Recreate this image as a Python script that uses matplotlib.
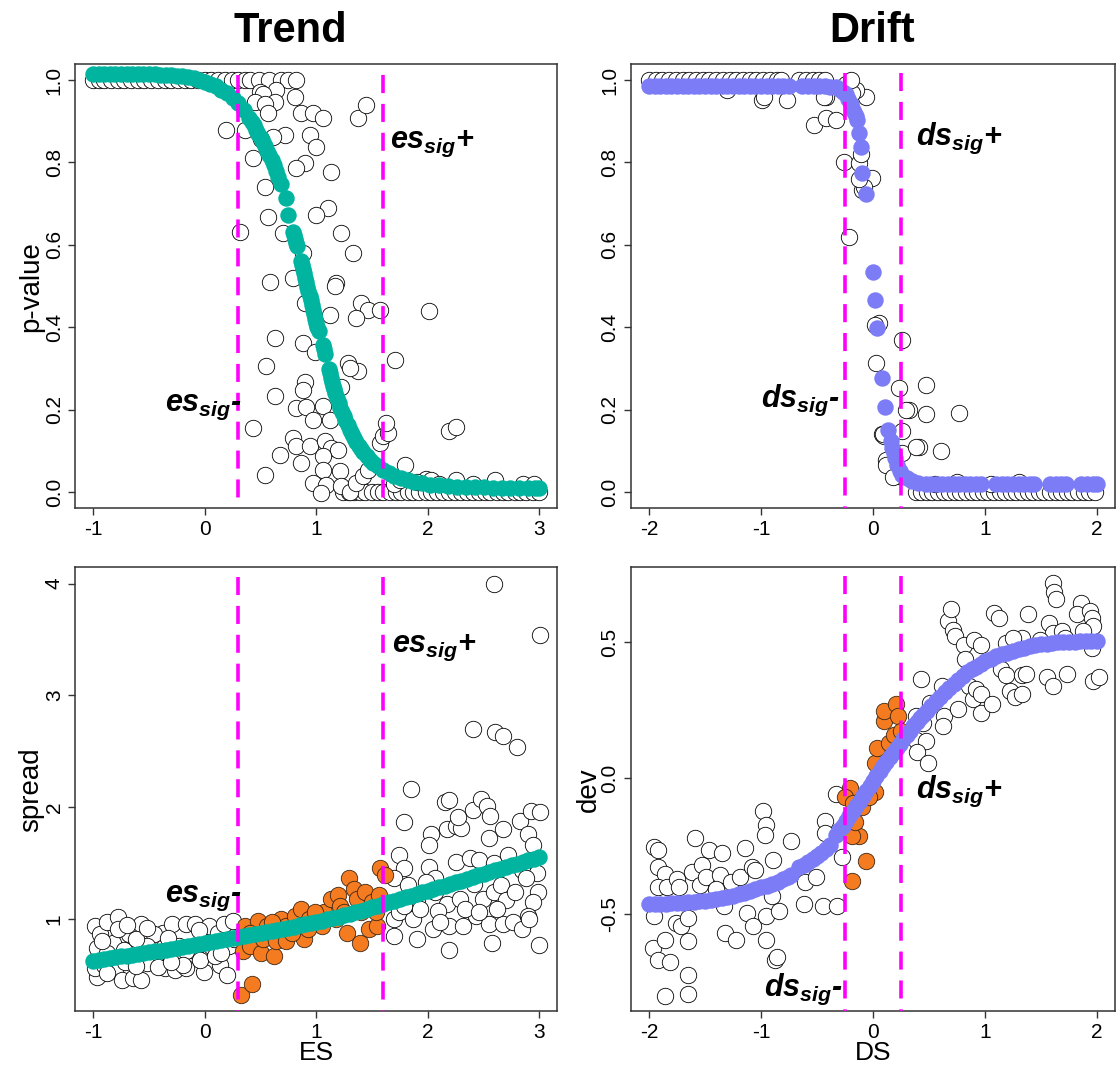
import matplotlib
matplotlib.use("Agg")
import matplotlib.pyplot as plt
import numpy as np

plt.rcParams['font.family'] = ['Liberation Sans', 'DejaVu Sans']
plt.rcParams['axes.unicode_minus'] = False
plt.rcParams['mathtext.fontset'] = 'custom'
plt.rcParams['mathtext.it'] = 'Liberation Sans:italic:bold'
plt.rcParams['mathtext.rm'] = 'Liberation Sans:bold'
plt.rcParams['mathtext.bf'] = 'Liberation Sans:bold'

TEAL = '#00B4A0'
PURPLE = '#7B7CF6'
ORANGE = '#F47B20'
MAGENTA = '#FF00FF'

# ---------------- Trend: ES vs p-value ----------------
tl_fit_x = [-1.00, -0.95, -0.90, -0.85, -0.80, -0.75, -0.70, -0.65, -0.60, -0.55, -0.50, -0.45,
            -0.40, -0.35, -0.30, -0.25, -0.20, -0.15, -0.10, -0.05, 0.00, 0.05, 0.10, 0.15,
            0.20, 0.25, 0.30, 0.35, 0.40, 0.42, 0.44, 0.46, 0.48, 0.50, 0.52, 0.54, 0.56, 0.58,
            0.60, 0.62, 0.64, 0.66, 0.68, 0.73, 0.75, 0.79, 0.80, 0.81, 0.82, 0.83, 0.86, 0.87,
            0.88, 0.89, 0.90, 0.91, 0.92, 0.93, 0.94, 0.95, 0.96, 0.97, 0.98, 0.99, 1.00, 1.01,
            1.02, 1.06, 1.07, 1.08, 1.11, 1.12, 1.13, 1.14, 1.15, 1.16, 1.17, 1.185, 1.20, 1.215,
            1.23, 1.245, 1.26, 1.28, 1.30, 1.32, 1.34, 1.36, 1.38, 1.40, 1.42, 1.45, 1.48, 1.51,
            1.55, 1.60, 1.65, 1.70, 1.76, 1.82, 1.88, 1.95, 2.02, 2.10, 2.18, 2.26, 2.34, 2.42,
            2.50, 2.58, 2.66, 2.74, 2.82, 2.90, 2.96, 3.00]
tl_fit_y = [1.015, 1.015, 1.015, 1.015, 1.015, 1.015, 1.015, 1.015, 1.015, 1.014, 1.014, 1.014,
            1.013, 1.013, 1.012, 1.011, 1.009, 1.007, 1.004, 1.000, 0.996, 0.991, 0.985, 0.977,
            0.968, 0.957, 0.944, 0.928, 0.908, 0.899, 0.890, 0.880, 0.870, 0.860, 0.850, 0.839,
            0.828, 0.817, 0.806, 0.793, 0.780, 0.765, 0.748, 0.713, 0.672, 0.632, 0.623, 0.614,
            0.605, 0.597, 0.562, 0.552, 0.542, 0.531, 0.520, 0.509, 0.498, 0.487, 0.476, 0.465,
            0.454, 0.443, 0.432, 0.421, 0.410, 0.400, 0.390, 0.357, 0.346, 0.335, 0.298, 0.288,
            0.278, 0.268, 0.258, 0.249, 0.240, 0.228, 0.216, 0.205, 0.194, 0.184, 0.174, 0.162,
            0.150, 0.140, 0.130, 0.121, 0.112, 0.104, 0.097, 0.087, 0.078, 0.071, 0.062, 0.053,
            0.045, 0.039, 0.033, 0.028, 0.024, 0.021, 0.018, 0.016, 0.014, 0.013, 0.012, 0.011,
            0.011, 0.010, 0.010, 0.010, 0.010, 0.010, 0.010, 0.010]

# circles sitting on p = 1 and p = 0
tl_one_x = [-1.0, -0.95, -0.9, -0.84, -0.78, -0.72, -0.66, -0.6, -0.54, -0.48, -0.42, -0.36,
            -0.3, -0.24, -0.18, -0.12, -0.06, 0.0, 0.06, 0.12, 0.18, 0.24, 0.3, 0.36, 0.404,
            0.49, 0.58, 0.687, 0.75, 0.82]
tl_zero_x = [1.24, 1.29, 1.34, 1.39, 1.44, 1.5, 1.55, 1.6, 1.66, 1.71, 1.76, 1.82, 1.87, 1.92,
             1.98, 2.03, 2.08, 2.14, 2.19, 2.24, 2.3, 2.35, 2.4, 2.46, 2.51, 2.56, 2.62, 2.67,
             2.72, 2.78, 2.83, 2.88, 2.94, 3.0]
tl_open = [(0.194, 0.879), (0.358, 0.879), (0.432, 0.810), (0.537, 0.741), (0.567, 0.668),
           (0.582, 0.511), (0.627, 0.373), (0.552, 0.305), (0.627, 0.232), (0.432, 0.155),
           (0.537, 0.042), (0.671, 0.090), (0.313, 0.632), (0.492, 0.972), (0.642, 0.976),
           (0.520, 0.965), (0.448, 0.947), (0.627, 0.947), (0.537, 0.943), (0.806, 0.959),
           (0.567, 0.919), (0.716, 0.867), (0.612, 0.862), (0.507, 0.858), (0.866, 0.919),
           (0.970, 0.919), (1.059, 0.907), (0.940, 0.867), (1.000, 0.838), (0.895, 0.798),
           (0.821, 0.786), (1.134, 0.778), (1.373, 0.907), (1.448, 0.939), (1.104, 0.689),
           (1.000, 0.672), (1.224, 0.628), (1.328, 0.580), (0.701, 0.628), (0.880, 0.580),
           (1.179, 0.507), (1.164, 0.499), (0.790, 0.519), (0.895, 0.458), (1.119, 0.430),
           (1.403, 0.458), (1.463, 0.443), (1.358, 0.422), (1.567, 0.442), (0.880, 0.361),
           (0.985, 0.341), (1.283, 0.313), (1.373, 0.293), (1.298, 0.300), (1.701, 0.321),
           (0.895, 0.268), (0.880, 0.248), (1.224, 0.256), (0.821, 0.204), (0.910, 0.207),
           (0.970, 0.175), (1.059, 0.208), (1.119, 0.175), (0.790, 0.131), (0.820, 0.111),
           (0.940, 0.111), (1.074, 0.123), (1.134, 0.107), (1.194, 0.103), (1.059, 0.087),
           (0.866, 0.070), (1.059, 0.054), (1.209, 0.050), (0.970, 0.022), (1.089, 0.018),
           (1.045, -0.002), (1.224, 0.014), (1.298, 0.001), (1.358, 0.022), (1.418, 0.038),
           (1.463, 0.054), (1.567, 0.119), (1.597, 0.135), (1.642, 0.143), (1.627, 0.167),
           (1.791, 0.066), (2.013, 0.440), (2.189, 0.149), (2.253, 0.159), (1.981, 0.032),
           (2.029, 0.030), (1.70, 0.020), (1.75, 0.030), (1.90, 0.025), (2.10, 0.020),
           (2.25, 0.030), (2.40, 0.020), (2.60, 0.030), (2.85, 0.020), (2.95, 0.020)]

# ---------------- Drift: DS vs p-value ----------------
tr_fit_x = [-2.00, -1.95, -1.90, -1.85, -1.80, -1.75, -1.70, -1.65, -1.60, -1.55, -1.50, -1.45,
            -1.40, -1.35, -1.30, -1.25, -1.20, -1.15, -1.10, -1.05, -1.00, -0.95, -0.90, -0.85,
            -0.80, -0.75, -0.63, -0.58, -0.53, -0.48, -0.43, -0.38, -0.334, -0.30, -0.27, -0.245,
            -0.22, -0.20, -0.185, -0.17, -0.155, -0.14, -0.125, -0.11, -0.095, -0.06, 0.0, 0.018,
            0.038, 0.077, 0.107, 0.137, 0.157, 0.17, 0.188, 0.20, 0.217, 0.24, 0.262, 0.30, 0.35,
            0.40, 0.47, 0.52, 0.57, 0.62, 0.67, 0.72, 0.77, 0.82, 0.87, 0.92, 0.96, 1.10, 1.15,
            1.20, 1.25, 1.30, 1.35, 1.40, 1.44, 1.58, 1.63, 1.68, 1.72, 1.86, 1.91, 1.96, 2.00]
tr_fit_y = [0.985, 0.985, 0.985, 0.985, 0.985, 0.985, 0.985, 0.985, 0.985, 0.985, 0.985, 0.985,
            0.985, 0.985, 0.985, 0.985, 0.985, 0.985, 0.985, 0.985, 0.985, 0.985, 0.985, 0.985,
            0.985, 0.985, 0.985, 0.985, 0.985, 0.985, 0.985, 0.984, 0.982, 0.978, 0.972, 0.966,
            0.955, 0.943, 0.933, 0.923, 0.913, 0.903, 0.871, 0.837, 0.774, 0.723, 0.533, 0.465,
            0.398, 0.276, 0.206, 0.151, 0.123, 0.108, 0.095, 0.082, 0.066, 0.052, 0.042, 0.033,
            0.026, 0.022, 0.020, 0.020, 0.020, 0.020, 0.020, 0.020, 0.020, 0.020, 0.020, 0.020,
            0.020, 0.020, 0.020, 0.020, 0.020, 0.020, 0.020, 0.020, 0.020, 0.020, 0.020, 0.020,
            0.020, 0.020, 0.020, 0.020, 0.020]
tr_one_x = [-2.0, -1.94, -1.88, -1.82, -1.76, -1.7, -1.64, -1.58, -1.52, -1.46, -1.4, -1.34,
            -1.28, -1.22, -1.16, -1.1, -1.04, -0.98, -0.92, -0.86, -0.82, -0.66, -0.6, -0.54,
            -0.48, -0.43]
tr_zero_x = [0.38, 0.43, 0.48, 0.53, 0.58, 0.63, 0.68, 0.73, 0.78, 0.83, 0.88, 0.93, 0.98, 1.03,
             1.08, 1.13, 1.18, 1.23, 1.28, 1.33, 1.38, 1.43, 1.48, 1.53, 1.58, 1.63, 1.68, 1.73,
             1.78, 1.83, 1.88, 1.93, 1.98]
tr_open = [(-0.527, 0.891), (-0.420, 0.907), (-0.330, 0.903), (-0.420, 0.960), (-0.990, 0.952),
           (-0.970, 0.960), (-0.770, 0.952), (-1.300, 0.977), (-0.066, 0.959), (-0.155, 0.976),
           (-0.240, 0.990), (-0.260, 0.800), (-0.215, 0.620), (-0.125, 0.798), (-0.110, 0.820),
           (-0.006, 0.762), (-0.095, 0.733), (-0.080, 0.740), (0.054, 0.410), (0.020, 0.405),
           (0.260, 0.369), (0.023, 0.313), (0.232, 0.252), (0.080, 0.140), (0.100, 0.135),
           (0.112, 0.078), (0.200, 0.078), (0.260, 0.095), (0.320, 0.200), (0.470, 0.260),
           (0.470, 0.190), (0.410, 0.110), (0.380, 0.110), (0.235, 0.038), (0.768, 0.191),
           (0.603, 0.099), (0.292, 0.199), (0.260, 0.149), (0.086, 0.141), (0.117, 0.065),
           (0.181, 0.036), (-0.184, 0.969), (-0.200, 1.000), (-0.121, 0.760), (-0.438, 0.958),
           (0.55, 0.020), (0.75, 0.025), (1.05, 0.020), (1.30, 0.025)]

# ---------------- Trend: ES vs spread ----------------
bl_fit_x = [-1.00, -0.95, -0.90, -0.85, -0.80, -0.75, -0.70, -0.65, -0.60, -0.55, -0.50, -0.45,
            -0.40, -0.35, -0.30, -0.25, -0.20, -0.15, -0.10, -0.05, 0.00, 0.05, 0.10, 0.15, 0.20,
            0.25, 0.30, 0.35, 0.40, 0.45, 0.50, 0.55, 0.60, 0.65, 0.70, 0.75, 0.80, 0.85, 0.90,
            0.95, 1.00, 1.05, 1.10, 1.15, 1.20, 1.25, 1.30, 1.35, 1.40, 1.45, 1.50, 1.55, 1.60,
            1.65, 1.70, 1.75, 1.80, 1.85, 1.90, 1.95, 2.00, 2.05, 2.10, 2.15, 2.20, 2.25, 2.30,
            2.35, 2.40, 2.45, 2.50, 2.55, 2.60, 2.65, 2.70, 2.75, 2.80, 2.85, 2.90, 2.95, 3.00]
bl_fit_y = [0.630, 0.637, 0.644, 0.651, 0.659, 0.666, 0.673, 0.680, 0.688, 0.695, 0.703, 0.711,
            0.719, 0.727, 0.735, 0.743, 0.751, 0.759, 0.767, 0.775, 0.783, 0.792, 0.801, 0.810,
            0.819, 0.828, 0.837, 0.846, 0.855, 0.863, 0.872, 0.882, 0.892, 0.902, 0.912, 0.923,
            0.933, 0.943, 0.954, 0.964, 0.975, 0.987, 0.999, 1.011, 1.023, 1.036, 1.048, 1.061,
            1.075, 1.090, 1.105, 1.120, 1.135, 1.150, 1.165, 1.180, 1.195, 1.210, 1.225, 1.240,
            1.255, 1.270, 1.285, 1.300, 1.315, 1.330, 1.345, 1.360, 1.375, 1.390, 1.405, 1.420,
            1.435, 1.450, 1.465, 1.480, 1.495, 1.510, 1.525, 1.540, 1.555]
bl_sig = [(0.321, 0.318), (0.420, 0.424), (0.362, 0.939), (0.378, 0.788), (0.346, 0.712),
          (0.410, 0.758), (0.506, 0.697), (0.522, 0.818), (0.474, 0.985), (0.554, 0.939),
          (0.603, 0.879), (0.619, 0.667), (0.635, 0.803), (0.683, 1.000), (0.731, 0.803),
          (0.731, 0.939), (0.811, 1.030), (0.859, 1.091), (0.891, 0.818), (0.939, 1.000),
          (1.051, 0.939), (1.067, 1.061), (1.131, 1.182), (1.196, 1.212), (1.212, 1.121),
          (1.276, 0.879), (1.292, 1.364), (1.340, 1.273), (1.365, 1.182), (1.388, 0.788),
          (1.436, 1.242), (1.468, 0.909), (1.500, 1.152), (1.548, 0.939), (1.564, 1.212),
          (1.574, 1.455), (1.612, 1.394), (1.532, 1.061), (1.404, 1.061), (0.987, 1.061),
          (1.244, 1.061), (1.180, 1.000), (0.923, 0.909), (0.779, 0.879), (0.410, 0.879),
          (0.603, 0.970)]
bl_open = [(-0.984, 0.939), (-0.968, 0.742), (-0.968, 0.485), (-0.984, 0.561), (-0.936, 0.864),
           (-0.872, 0.970), (-0.824, 0.788), (-0.808, 0.545), (-0.776, 1.015), (-0.744, 0.455),
           (-0.728, 0.727), (-0.679, 0.864), (-0.647, 0.470), (-0.599, 0.667), (-0.567, 0.955),
           (-0.567, 0.455), (-0.519, 0.606), (-0.487, 0.818), (-0.423, 0.697), (-0.375, 0.879),
           (-0.359, 0.561), (-0.295, 0.955), (-0.263, 0.545), (-0.231, 0.758), (-0.167, 0.955),
           (-0.167, 0.561), (-0.087, 0.955), (-0.087, 0.712), (-0.006, 0.530), (0.042, 0.939),
           (0.058, 0.758), (0.122, 0.879), (0.138, 0.591), (0.170, 0.955), (0.202, 0.500),
           (0.218, 0.758), (0.250, 0.985), (0.266, 0.818), (-0.455, 0.864), (-0.872, 0.697),
           (-0.904, 0.591), (-0.327, 0.833), (-0.712, 0.621), (-0.519, 0.758), (-0.038, 0.636),
           (0.090, 0.667), (-0.776, 0.909), (-0.615, 0.818), (-0.167, 0.712), (-0.359, 0.712),
           (-0.872, 0.515), (-0.423, 0.576), (-0.199, 0.591), (-0.92, 0.80), (-0.70, 0.95),
           (-0.52, 0.92), (-0.05, 0.90), (0.15, 0.70), (-0.30, 0.62), (-0.62, 0.58),
           (2.590, 4.000), (3.006, 3.536), (2.404, 2.697), (2.606, 2.673), (2.670, 2.636),
           (2.798, 2.539), (1.853, 2.167), (1.782, 1.864), (2.157, 2.045), (2.189, 2.061),
           (2.400, 1.979), (2.480, 2.076), (2.529, 2.015), (2.561, 1.924), (2.173, 1.803),
           (2.253, 1.833), (2.301, 1.818), (2.269, 1.909), (2.029, 1.758), (2.013, 1.667),
           (2.545, 1.727), (2.670, 1.803), (2.830, 1.879), (2.926, 1.970), (3.006, 1.955),
           (2.894, 1.758), (2.942, 1.667), (1.740, 1.576), (1.788, 1.455), (2.013, 1.470),
           (2.061, 1.364), (2.253, 1.515), (2.381, 1.545), (2.460, 1.530), (2.590, 1.500),
           (2.718, 1.576), (2.846, 1.439), (2.942, 1.530), (2.974, 1.409), (1.692, 1.364),
           (1.821, 1.303), (1.901, 1.182), (1.981, 1.333), (2.061, 1.242), (2.173, 1.136),
           (2.285, 1.182), (2.413, 1.318), (2.494, 1.182), (2.590, 1.242), (2.654, 1.303),
           (2.702, 1.167), (2.782, 1.242), (2.878, 1.364), (2.990, 1.242), (2.942, 1.152),
           (1.692, 1.000), (1.740, 1.061), (1.869, 1.000), (1.692, 0.848), (1.901, 0.818),
           (2.045, 0.909), (2.189, 0.727), (2.189, 0.939), (2.317, 0.939), (2.429, 1.030),
           (2.545, 0.955), (2.574, 0.788), (2.670, 0.955), (2.766, 0.970), (2.846, 0.909),
           (2.894, 1.030), (2.997, 0.773), (2.622, 1.091), (2.333, 1.091), (2.093, 1.076),
           (1.933, 1.091), (1.788, 1.121), (2.109, 0.970), (2.462, 1.061), (2.910, 1.000)]

# ---------------- Drift: DS vs dev ----------------
br_fit_x = [-2.00, -1.95, -1.90, -1.85, -1.80, -1.75, -1.70, -1.65, -1.60, -1.55, -1.50, -1.45,
            -1.40, -1.35, -1.30, -1.25, -1.20, -1.15, -1.10, -1.05, -1.00, -0.95, -0.90, -0.85,
            -0.80, -0.76, -0.73, -0.66, -0.62, -0.58, -0.54, -0.50, -0.46, -0.42, -0.38, -0.33,
            -0.30, -0.27, -0.24, -0.21, -0.18, -0.15, -0.12, -0.09, -0.06, -0.03, 0.00, 0.03,
            0.06, 0.09, 0.12, 0.15, 0.18, 0.21, 0.24, 0.27, 0.30, 0.33, 0.36, 0.39, 0.42, 0.45,
            0.48, 0.52, 0.56, 0.60, 0.64, 0.68, 0.72, 0.76, 0.80, 0.84, 0.88, 0.92, 0.96, 1.00,
            1.05, 1.10, 1.15, 1.20, 1.25, 1.30, 1.35, 1.40, 1.45, 1.50, 1.55, 1.60, 1.65, 1.70,
            1.75, 1.80, 1.85, 1.90, 1.95, 2.00]
br_fit_y = [-0.465, -0.464, -0.463, -0.462, -0.461, -0.460, -0.459, -0.457, -0.455, -0.453,
            -0.451, -0.448, -0.445, -0.441, -0.437, -0.432, -0.427, -0.421, -0.415, -0.409,
            -0.402, -0.396, -0.389, -0.381, -0.372, -0.364, -0.358, -0.328, -0.318, -0.308,
            -0.298, -0.287, -0.274, -0.260, -0.246, -0.208, -0.192, -0.175, -0.157, -0.139,
            -0.120, -0.102, -0.084, -0.066, -0.049, -0.030, -0.011, 0.008, 0.027, 0.044, 0.060,
            0.076, 0.093, 0.110, 0.127, 0.143, 0.158, 0.174, 0.190, 0.205, 0.220, 0.234, 0.248,
            0.265, 0.283, 0.300, 0.316, 0.332, 0.348, 0.362, 0.376, 0.389, 0.400, 0.410, 0.420,
            0.430, 0.440, 0.448, 0.456, 0.462, 0.468, 0.474, 0.480, 0.485, 0.489, 0.492, 0.495,
            0.497, 0.499, 0.500, 0.501, 0.502, 0.503, 0.504, 0.505, 0.506]
br_sig = [(-0.206, -0.037), (-0.254, -0.071), (-0.190, -0.377), (-0.063, -0.305), (-0.127, -0.212),
          (-0.190, -0.214), (-0.159, -0.161), (-0.175, -0.090), (-0.095, -0.108), (0.016, -0.052),
          (0.016, 0.054), (0.032, 0.110), (0.102, 0.209), (0.102, 0.247), (0.206, 0.272),
          (0.222, 0.228), (0.143, 0.128), (0.190, 0.160), (0.254, 0.172), (-0.032, -0.071)]
br_open = [(-1.952, -0.252), (-1.921, -0.264), (-1.921, -0.327), (-1.857, -0.352), (-1.921, -0.401),
           (-1.841, -0.401), (-1.952, -0.507), (-1.968, -0.626), (-1.921, -0.670), (-1.857, -0.595),
           (-1.810, -0.676), (-1.857, -0.800), (-1.746, -0.370), (-1.730, -0.401), (-1.762, -0.532),
           (-1.714, -0.545), (-1.651, -0.514), (-1.651, -0.601), (-1.651, -0.726), (-1.651, -0.794),
           (-1.619, -0.345), (-1.587, -0.221), (-1.524, -0.320), (-1.540, -0.395), (-1.492, -0.364),
           (-1.460, -0.264), (-1.349, -0.277), (-1.365, -0.358), (-1.333, -0.470), (-1.317, -0.570),
           (-1.222, -0.595), (-1.270, -0.383), (-1.190, -0.364), (-1.143, -0.258), (-1.127, -0.495),
           (-1.079, -0.327), (-1.070, -0.545), (-0.984, -0.121), (-0.952, -0.171), (-0.968, -0.208),
           (-0.952, -0.507), (-0.952, -0.595), (-0.905, -0.433), (-0.889, -0.302), (-0.873, -0.670),
           (-0.857, -0.657), (-0.841, -0.489), (-0.730, -0.233), (-1.050, -0.339), (-1.397, -0.408),
           (-0.619, -0.464), (-0.603, -0.383), (-0.508, -0.364), (-0.444, -0.470), (-0.429, -0.158),
           (-0.429, -0.202), (-0.333, -0.059), (-0.317, -0.470), (-0.279, -0.292),
           (0.429, 0.365), (0.381, 0.228), (0.381, 0.141), (0.444, 0.203), (0.476, 0.135),
           (0.397, 0.097), (0.492, 0.054), (0.508, 0.278), (0.619, 0.340), (0.635, 0.228),
           (0.629, 0.191), (0.667, 0.577), (0.698, 0.621), (0.714, 0.546), (0.730, 0.521),
           (0.762, 0.253), (0.810, 0.490), (0.825, 0.440), (0.905, 0.509), (0.968, 0.490),
           (0.857, 0.340), (0.889, 0.291), (0.921, 0.328), (0.968, 0.309), (0.968, 0.241),
           (1.063, 0.272), (1.079, 0.608), (1.127, 0.590), (1.143, 0.403), (1.190, 0.378),
           (1.222, 0.322), (1.270, 0.297), (1.333, 0.309), (1.333, 0.378), (1.365, 0.384),
           (1.381, 0.605), (1.333, 0.515), (1.190, 0.496), (1.556, 0.372), (1.603, 0.340),
           (1.571, 0.571), (1.603, 0.534), (1.683, 0.540), (1.730, 0.384), (1.603, 0.717),
           (1.619, 0.683), (1.635, 0.658), (1.857, 0.646), (1.825, 0.602), (1.937, 0.615),
           (1.952, 0.590), (1.968, 0.559), (1.873, 0.540), (1.952, 0.478), (1.968, 0.359),
           (2.016, 0.372), (1.492, 0.509), (1.254, 0.515), (1.714, 0.515)]

# ---------------- drawing ----------------
W, H = 1117, 1070
fig = plt.figure(figsize=(W / 100, H / 100), dpi=100)


def box(l, r, t, b):
    return [l / W, 1 - b / H, (r - l) / W, (b - t) / H]


ax_tl = fig.add_axes(box(75.3, 557.3, 64, 508.3))
ax_tr = fig.add_axes(box(631, 1115, 64, 508.3))
ax_bl = fig.add_axes(box(75.3, 557.3, 567.3, 1011.3))
ax_br = fig.add_axes(box(631, 1115, 567.3, 1011.3))

S = 140


def pts(pairs):
    a = np.array(pairs)
    return a[:, 0], a[:, 1]


def open_pts(ax, x, y):
    ax.scatter(x, y, s=S, facecolor='white', edgecolor='black', linewidths=0.6, zorder=2)


def cutoff(ax, x, top, bottom):
    ax.plot([x, x], [top, bottom], color=MAGENTA, lw=2.6, dashes=(5, 3), zorder=6)


def tag(ax, x, y, name, sign):
    ax.text(x, y, r'$%s_{sig}$' % name + sign, fontsize=22, fontweight='bold',
            style='italic', ha='left', va='baseline', zorder=7)


def style(ax, xlim, ylim, xt, yt, ytl):
    ax.set_xlim(*xlim)
    ax.set_ylim(*ylim)
    ax.set_xticks(xt)
    ax.set_xticklabels([str(v) for v in xt])
    ax.set_yticks(yt)
    ax.set_yticklabels(ytl)
    ax.tick_params(length=4.8, width=1, color='#333333', labelsize=15, pad=3.5)
    ax.tick_params(axis='y', labelrotation=90)
    for lab in ax.get_yticklabels():
        lab.set_va('center')
    for sp in ax.spines.values():
        sp.set_linewidth(1.1)
        sp.set_color('#333333')


# Trend p-value
open_pts(ax_tl, tl_one_x, np.ones(len(tl_one_x)))
open_pts(ax_tl, tl_zero_x, np.zeros(len(tl_zero_x)))
open_pts(ax_tl, *pts(tl_open))
ax_tl.scatter(tl_fit_x, tl_fit_y, s=S, color=TEAL, linewidths=0, zorder=4)
cutoff(ax_tl, 0.3, 1.012, -0.1)
cutoff(ax_tl, 1.6, 1.012, -0.1)
tag(ax_tl, 1.665, 0.835, 'es', '+')
tag(ax_tl, -0.36, 0.198, 'es', '-')
style(ax_tl, (-1.16, 3.16), (-0.0395, 1.039), [-1, 0, 1, 2, 3],
      [0, 0.2, 0.4, 0.6, 0.8, 1.0], ['0.0', '0.2', '0.4', '0.6', '0.8', '1.0'])
ax_tl.set_ylabel('p-value', fontsize=20, va='center')
ax_tl.yaxis.set_label_coords(-0.092, 0.5)

# Drift p-value
open_pts(ax_tr, tr_one_x, np.ones(len(tr_one_x)))
open_pts(ax_tr, tr_zero_x, np.zeros(len(tr_zero_x)))
open_pts(ax_tr, *pts(tr_open))
ax_tr.scatter(tr_fit_x, tr_fit_y, s=S, color=PURPLE, linewidths=0, zorder=4)
cutoff(ax_tr, -0.25, 1.016, -0.1)
cutoff(ax_tr, 0.25, 1.016, -0.1)
tag(ax_tr, 0.387, 0.842, 'ds', '+')
tag(ax_tr, -1.0, 0.206, 'ds', '-')
style(ax_tr, (-2.16, 2.16), (-0.0395, 1.039), [-2, -1, 0, 1, 2],
      [0, 0.2, 0.4, 0.6, 0.8, 1.0], ['0.0', '0.2', '0.4', '0.6', '0.8', '1.0'])

# Trend spread
open_pts(ax_bl, *pts(bl_open))
bx, by = pts(bl_sig)
ax_bl.scatter(bx, by, s=S, facecolor=ORANGE, edgecolor='#3b2613', linewidths=0.6, zorder=3)
ax_bl.scatter(bl_fit_x, bl_fit_y, s=S, color=TEAL, linewidths=0, zorder=4)
cutoff(ax_bl, 0.3, 4.06, 0.0)
cutoff(ax_bl, 1.6, 4.06, 0.0)
tag(ax_bl, 1.674, 3.387, 'es', '+')
tag(ax_bl, -0.36, 1.153, 'es', '-')
style(ax_bl, (-1.16, 3.16), (0.176, 4.145), [-1, 0, 1, 2, 3], [1, 2, 3, 4], ['1', '2', '3', '4'])
ax_bl.set_ylabel('spread', fontsize=20, va='center')
ax_bl.yaxis.set_label_coords(-0.092, 0.5)
ax_bl.set_xlabel('ES', fontsize=19, va='top')
ax_bl.xaxis.set_label_coords(0.5, -0.068)

# Drift dev
open_pts(ax_br, *pts(br_open))
dx, dy = pts(br_sig)
ax_br.scatter(dx, dy, s=S, facecolor=ORANGE, edgecolor='#3b2613', linewidths=0.6, zorder=3)
ax_br.scatter(br_fit_x, br_fit_y, s=S, color=PURPLE, linewidths=0, zorder=4)
cutoff(ax_br, -0.25, 0.745, -1.0)
cutoff(ax_br, 0.25, 0.745, -1.0)
tag(ax_br, 0.38, -0.073, 'ds', '+')
tag(ax_br, -0.97, -0.80, 'ds', '-')
style(ax_br, (-2.16, 2.16), (-0.858, 0.7756), [-2, -1, 0, 1, 2], [-0.5, 0.0, 0.5],
      ['-0.5', '0.0', '0.5'])
ax_br.set_ylabel('dev', fontsize=20, va='center')
ax_br.yaxis.set_label_coords(-0.088, 0.5)
ax_br.set_xlabel('DS', fontsize=19, va='top')
ax_br.xaxis.set_label_coords(0.5, -0.068)

fig.text(290 / W, 1 - 42 / H, 'Trend', ha='center', va='baseline', fontsize=30, fontweight='bold')
fig.text(872 / W, 1 - 42 / H, 'Drift', ha='center', va='baseline', fontsize=30, fontweight='bold')

fig.savefig('out.png', dpi=100)
